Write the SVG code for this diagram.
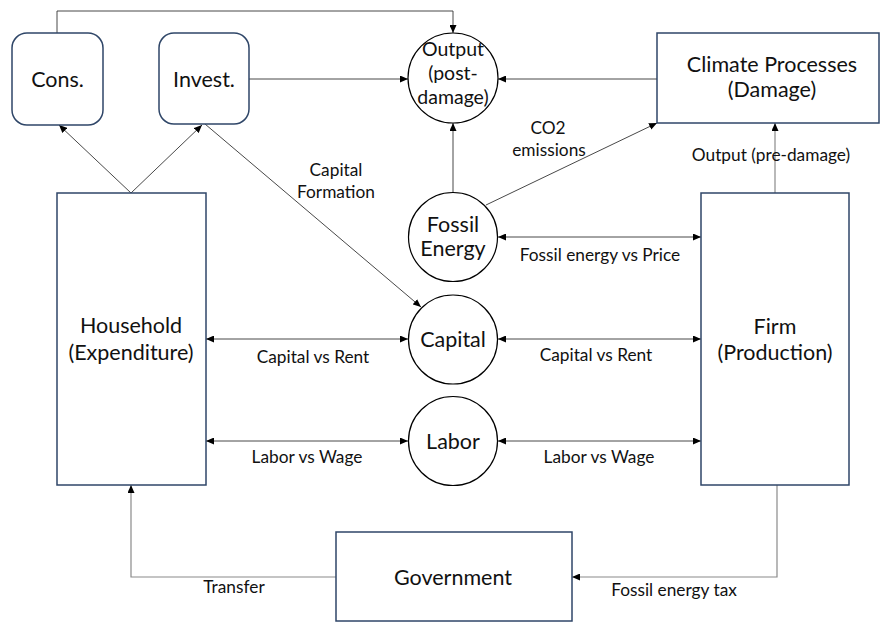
<svg xmlns="http://www.w3.org/2000/svg" width="881" height="623" viewBox="0 0 881 623">
<style>
.box{fill:#fff;stroke:#2F4668;stroke-width:1.5}
.circ{fill:#fff;stroke:#000;stroke-width:1.2}
.ln{fill:none;stroke:#333;stroke-width:0.9}
.lg{fill:none;stroke:#8a8a8a;stroke-width:1.2}
.nt{font-family:Lato,"Liberation Sans",sans-serif;font-size:21.5px;fill:#111;text-anchor:middle}
.ot{font-size:19.5px}
.et{font-family:Lato,"Liberation Sans",sans-serif;font-size:17.3px;fill:#111;text-anchor:middle}
</style>
<defs>
<marker id="ah" viewBox="0 0 8 7" markerWidth="8" markerHeight="7" refX="8" refY="3.5" orient="auto-start-reverse" markerUnits="userSpaceOnUse">
<path d="M0,0 L8,3.5 L0,7 z" fill="#000"/>
</marker>
</defs>
<rect width="881" height="623" fill="#fff"/>
<g id="connectors">
<path class="ln" d="M57,33 V11 H453 V33" marker-end="url(#ah)"/>
<path class="ln" d="M249,79 H408" marker-end="url(#ah)"/>
<path class="ln" d="M657,79 H498" marker-end="url(#ah)"/>
<path class="ln" d="M453,193 V123" marker-end="url(#ah)"/>
<path class="ln" d="M486,205 L657,123" marker-end="url(#ah)"/>
<path class="lg" d="M775,193 V123" marker-end="url(#ah)"/>
<path class="ln" d="M131,193 L59,125" marker-end="url(#ah)"/>
<path class="ln" d="M131,193 L202,125" marker-end="url(#ah)"/>
<path class="ln" d="M205,124 L421,307" marker-end="url(#ah)"/>
<path class="ln" d="M498,237 H701" marker-start="url(#ah)" marker-end="url(#ah)"/>
<path class="ln" d="M206,339 H408" marker-start="url(#ah)" marker-end="url(#ah)"/>
<path class="ln" d="M498,339 H701" marker-start="url(#ah)" marker-end="url(#ah)"/>
<path class="ln" d="M206,441 H408" marker-start="url(#ah)" marker-end="url(#ah)"/>
<path class="ln" d="M498,441 H701" marker-start="url(#ah)" marker-end="url(#ah)"/>
<path class="lg" d="M336,577 H131 V485" marker-end="url(#ah)"/>
<path class="lg" d="M777,485 V577 H572" marker-end="url(#ah)"/>
<text class="et" x="336" y="176">Capital</text>
<text class="et" x="336" y="198">Formation</text>
<text class="et" x="548" y="134">CO2</text>
<text class="et" x="549" y="156">emissions</text>
<text class="et" x="771" y="161">Output (pre-damage)</text>
<text class="et" x="600" y="261">Fossil energy vs Price</text>
<text class="et" x="313" y="363">Capital vs Rent</text>
<text class="et" x="596" y="361">Capital vs Rent</text>
<text class="et" x="307" y="463">Labor vs Wage</text>
<text class="et" x="599" y="463">Labor vs Wage</text>
<text class="et" x="234" y="593">Transfer</text>
<text class="et" x="674" y="596">Fossil energy tax</text>
</g>
<g id="cons"><rect class="box" x="12" y="33" width="91" height="92" rx="15"/><text class="nt" x="57.5" y="87">Cons.</text></g>
<g id="invest"><rect class="box" x="159" y="33" width="90" height="91" rx="15"/><text class="nt" x="204" y="87">Invest.</text></g>
<g id="output"><circle class="circ" cx="453" cy="78" r="45"/><text class="nt ot" x="453" y="56">Output</text><text class="nt ot" x="453" y="80">(post-</text><text class="nt ot" x="453" y="104">damage)</text></g>
<g id="climate"><rect class="box" x="657" y="33" width="222" height="90"/><text class="nt" x="772" y="72">Climate Processes</text><text class="nt" x="772" y="97">(Damage)</text></g>
<g id="fossil"><circle class="circ" cx="453" cy="237" r="44.5"/><text class="nt" x="453" y="232">Fossil</text><text class="nt" x="453" y="256">Energy</text></g>
<g id="capital"><circle class="circ" cx="453" cy="339.5" r="44.5"/><text class="nt" x="453" y="347">Capital</text></g>
<g id="labor"><circle class="circ" cx="453" cy="441" r="44.5"/><text class="nt" x="453" y="449">Labor</text></g>
<g id="household"><rect class="box" x="57" y="193" width="149" height="292"/><text class="nt" x="131" y="333">Household</text><text class="nt" x="131" y="360">(Expenditure)</text></g>
<g id="firm"><rect class="box" x="701" y="193" width="148" height="292"/><text class="nt" x="775" y="334">Firm</text><text class="nt" x="775" y="360">(Production)</text></g>
<g id="government"><rect class="box" x="336" y="532" width="236" height="89"/><text class="nt" x="453" y="585">Government</text></g>
</svg>
